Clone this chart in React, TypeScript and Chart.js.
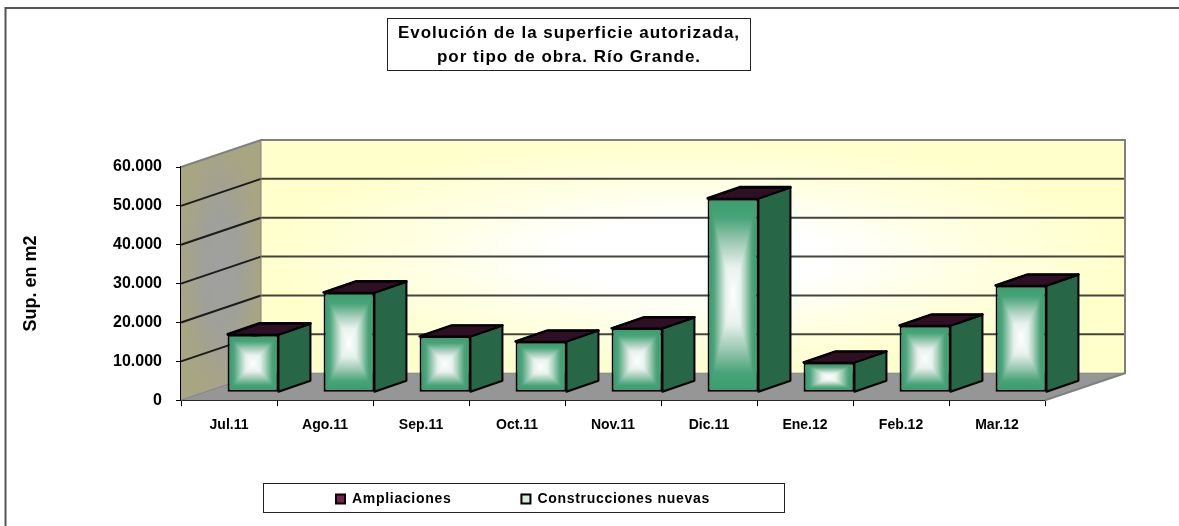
import React, { useEffect, useRef } from "react";
import { Chart, registerables } from "chart.js";

Chart.register(...registerables);

const categories = ["Jul.11", "Ago.11", "Sep.11", "Oct.11", "Nov.11", "Dic.11", "Ene.12", "Feb.12", "Mar.12"];
const construccionesNuevas = [14800, 25600, 14300, 13000, 16400, 49800, 7600, 17100, 27400];
const ampliaciones = [200, 150, 100, 100, 100, 200, 100, 150, 150];
const yTickStep = 10000;
const yMax = 60000;
const titleLines = ["Evolución de la superficie autorizada,", "por tipo de obra. Río Grande."];
const yAxisTitle = "Sup. en m2";

const FONT = '"Liberation Sans", Arial, sans-serif';
const DEPTH_X = 80;
const DEPTH_Y = 27;
const BAR_SHIFT_X = 24;
const BAR_SHIFT_Y = 8;
const BAR_DX = 32;
const BAR_DY = 11;
const LEGEND_GAP = 70;
const LEGEND_X = 336;

// offset from bar edge (0) to bar centre (1) -> colour
const GRADIENT_STOPS: [number, number, number, number][] = [
  [0, 60, 158, 110],
  [0.18, 72, 164, 121],
  [0.45, 163, 204, 184],
  [0.7, 232, 242, 237],
  [1, 255, 255, 255],
];

function poly(ctx: CanvasRenderingContext2D, pts: number[][]) {
  ctx.beginPath();
  pts.forEach((p, i) => (i ? ctx.lineTo(p[0], p[1]) : ctx.moveTo(p[0], p[1])));
  ctx.closePath();
}

function boxGradient(w: number, h: number) {
  const c = document.createElement("canvas");
  c.width = Math.max(1, Math.round(w));
  c.height = Math.max(1, Math.round(h));
  const g = c.getContext("2d")!;
  const img = g.createImageData(c.width, c.height);
  const hw = c.width / 2, hh = c.height / 2;
  for (let py = 0; py < c.height; py++) {
    for (let px = 0; px < c.width; px++) {
      const d = Math.max(Math.abs(px + 0.5 - hw) / hw, Math.abs(py + 0.5 - hh) / hh);
      const t = 1 - d;
      let k = 0;
      while (k < GRADIENT_STOPS.length - 2 && t > GRADIENT_STOPS[k + 1][0]) k++;
      const a = GRADIENT_STOPS[k], b = GRADIENT_STOPS[k + 1];
      const f = Math.min(1, Math.max(0, (t - a[0]) / (b[0] - a[0])));
      const o = (py * c.width + px) * 4;
      img.data[o] = a[1] + (b[1] - a[1]) * f;
      img.data[o + 1] = a[2] + (b[2] - a[2]) * f;
      img.data[o + 2] = a[3] + (b[3] - a[3]) * f;
      img.data[o + 3] = 255;
    }
  }
  g.putImageData(img, 0, 0);
  return c;
}

const wallPlugin = {
  id: "walls",
  beforeDatasetsDraw(chart: any) {
    const { ctx, chartArea: a, scales } = chart;
    const y = scales.y;
    const l = a.left, r = a.right, t = a.top, b = a.bottom;
    ctx.save();
    // back wall
    const bx0 = l + DEPTH_X, bx1 = r + DEPTH_X, by0 = t - DEPTH_Y, by1 = b - DEPTH_Y;
    const w = bx1 - bx0, h = by1 - by0;
    ctx.save();
    ctx.beginPath();
    ctx.rect(bx0, by0, w, h);
    ctx.clip();
    ctx.translate((bx0 + bx1) / 2, (by0 + by1) / 2);
    ctx.scale(1, h / w);
    const rg = ctx.createRadialGradient(0, 0, 0, 0, 0, w / 2);
    rg.addColorStop(0, "#ffffff");
    rg.addColorStop(0.3, "#ffffff");
    rg.addColorStop(0.6, "#ffffe6");
    rg.addColorStop(1, "#ffffcc");
    ctx.fillStyle = rg;
    ctx.fillRect(-w / 2, -w / 2, w, w);
    ctx.restore();
    // side wall
    ctx.save();
    poly(ctx, [[l, t], [bx0, by0], [bx0, by1], [l, b]]);
    ctx.clip();
    ctx.translate((l + bx0) / 2, (by0 + b) / 2);
    ctx.scale(1, (b - by0) / (bx0 - l));
    const sg = ctx.createRadialGradient(0, 0, 0, 0, 0, (bx0 - l) / 2);
    sg.addColorStop(0, "#a0a0a0");
    sg.addColorStop(0.45, "#a0a09a");
    sg.addColorStop(1, "#a8a582");
    ctx.fillStyle = sg;
    ctx.fillRect(-(bx0 - l), -(bx0 - l), (bx0 - l) * 2, (bx0 - l) * 2);
    ctx.restore();
    // floor
    ctx.fillStyle = "#969696";
    poly(ctx, [[l, b], [r, b], [bx1, by1], [bx0, by1]]);
    ctx.fill();
    // grid lines (wall + side)
    for (let v = yTickStep; v < yMax; v += yTickStep) {
      const py = y.getPixelForValue(v);
      ctx.lineWidth = 2;
      ctx.strokeStyle = "#45453c";
      ctx.beginPath();
      ctx.moveTo(bx0, py - DEPTH_Y);
      ctx.lineTo(bx1, py - DEPTH_Y);
      ctx.stroke();
      ctx.strokeStyle = "#1c1c1c";
      ctx.beginPath();
      ctx.moveTo(l, py);
      ctx.lineTo(bx0, py - DEPTH_Y);
      ctx.stroke();
    }
    ctx.strokeStyle = "#808080";
    ctx.lineWidth = 2;
    ctx.beginPath();
    ctx.moveTo(l, t);
    ctx.lineTo(bx0, by0);
    ctx.lineTo(bx1, by0);
    ctx.lineTo(bx1, by1);
    ctx.lineTo(r, b);
    ctx.stroke();
    ctx.lineWidth = 1;
    ctx.beginPath();
    ctx.moveTo(bx0, by0);
    ctx.lineTo(bx0, by1);
    ctx.lineTo(bx1, by1);
    ctx.moveTo(bx0, by1);
    ctx.lineTo(l, b);
    ctx.stroke();
    ctx.restore();

    // Shift all the bars back onto the middle of the floor
    ctx.save();
    ctx.translate(BAR_SHIFT_X, -BAR_SHIFT_Y);
  },
  beforeDatasetDraw(chart: any, args: any) {
    const { ctx } = chart;
    const meta = args.meta;
    const side = meta.index === 0 ? "#276647" : "#2e0f24";
    ctx.save();
    ctx.strokeStyle = "#000";
    ctx.lineWidth = 2;
    ctx.lineJoin = "round";
    meta.data.forEach((el: any) => {
      const hw = el.width / 2;
      const l = el.x - hw, r = el.x + hw;
      const top = Math.min(el.y, el.base), bot = Math.max(el.y, el.base);
      ctx.fillStyle = side;
      poly(ctx, [[r, bot], [r + BAR_DX, bot - BAR_DY], [r + BAR_DX, top - BAR_DY], [r, top]]);
      ctx.fill();
      ctx.stroke();
      ctx.fillStyle = "#2e0f24";
      poly(ctx, [[l, top], [l + BAR_DX, top - BAR_DY], [r + BAR_DX, top - BAR_DY], [r, top]]);
      ctx.fill();
      ctx.stroke();
    });
    ctx.restore();
  },
  afterDatasetDraw(chart: any, args: any) {
    if (args.meta.index !== 0) return;
    const { ctx } = chart;
    args.meta.data.forEach((el: any) => {
      const hw = el.width / 2 - 2;
      const l = el.x - hw, r = el.x + hw;
      const top = Math.min(el.y, el.base) + 2, bot = Math.max(el.y, el.base) - 2;
      ctx.drawImage(boxGradient(r - l, bot - top), l, top, r - l, bot - top);
    });
  },
  afterDatasetsDraw(chart: any) {
    chart.ctx.restore();
  },
};

function spaced(box: any, spacing: string) {
  const draw = box.draw;
  box.draw = function (...args: any[]) {
    const ctx = box.ctx;
    ctx.letterSpacing = spacing;
    draw.apply(box, args);
    ctx.letterSpacing = "0px";
  };
}

const framePlugin = {
  id: "frames",
  afterLayout(chart: any) {
    const t = chart.titleBlock;
    if (t) {
      t.left = 388; t.right = 750; t.top = 21; t.bottom = 71; t.width = 362;
      spaced(t, "1px");
    }
    const lg = chart.legend;
    if (lg) {
      lg.options.labels.padding = LEGEND_GAP;
      lg.left = LEGEND_X - LEGEND_GAP;
      lg.right = 900;
      lg.top = 492 - LEGEND_GAP;
      lg.bottom = 512;
      spaced(lg, "0.7px");
    }
  },
  beforeDraw(chart: any) {
    const { ctx } = chart;
    ctx.save();
    ctx.fillStyle = "#fff";
    ctx.fillRect(0, 0, chart.width, chart.height);
    ctx.strokeStyle = "#555";
    ctx.lineWidth = 2;
    ctx.beginPath();
    ctx.moveTo(5.5, chart.height);
    ctx.lineTo(5.5, 8);
    ctx.lineTo(chart.width, 8);
    ctx.stroke();
    ctx.strokeStyle = "#222";
    ctx.lineWidth = 1;
    ctx.strokeRect(387.5, 18.5, 363, 52);
    ctx.strokeRect(263.5, 483.5, 521, 29);
    ctx.restore();
  },
};

export default function App() {
  const ref = useRef<HTMLCanvasElement>(null);
  useEffect(() => {
    document.body.style.margin = "0";
    const chart = new Chart(ref.current!, {
      type: "bar",
      data: {
        labels: categories,
        datasets: [
          {
            label: "Construcciones nuevas",
            data: construccionesNuevas,
            backgroundColor: "#3c9e6e",
            borderColor: "#000",
            borderWidth: 2,
            borderSkipped: false,
            clip: false as any,
            stack: "s",
            categoryPercentage: 1,
            barPercentage: 0.53,
          },
          {
            label: "Ampliaciones",
            data: ampliaciones,
            backgroundColor: "#7a1f55",
            borderColor: "#000",
            borderWidth: 1,
            clip: false as any,
            stack: "s",
            categoryPercentage: 1,
            barPercentage: 0.53,
          },
        ],
      },
      options: {
        animation: false,
        responsive: false,
        layout: { padding: { left: 20, right: 134, top: 0, bottom: 47 } },
        plugins: {
          tooltip: { enabled: false },
          title: {
            display: true,
            text: titleLines,
            color: "#000",
            font: { family: FONT, size: 17, weight: "bold", lineHeight: 1.412 },
            padding: { top: 0, bottom: 119 },
          },
          legend: {
            display: true,
            position: "bottom",
            align: "start",
            labels: {
              color: "#000",
              font: { family: FONT, size: 14, weight: "bold" },
              boxWidth: 9,
              boxHeight: 9,
              padding: 10,
              generateLabels(chart: any) {
                return chart.data.datasets
                  .map((d: any, i: number) => ({
                    text: d.label,
                    fillStyle: i === 0 ? "#d8ecdf" : "#7a1f55",
                    strokeStyle: "#000",
                    lineWidth: 2,
                    datasetIndex: i,
                  }))
                  .reverse();
              },
            },
          },
        },
        scales: {
          x: {
            stacked: true,
            z: 1,
            border: { display: true, color: "#000", width: 2 },
            grid: { drawOnChartArea: false, drawTicks: true, tickLength: 6, color: "#000", lineWidth: 1, offset: true },
            ticks: { color: "#000", font: { family: FONT, size: 14, weight: "bold" }, padding: 11, maxRotation: 0, autoSkip: false },
          },
          y: {
            stacked: true,
            z: 1,
            min: 0,
            max: yMax,
            border: { display: true, color: "#000", width: 2 },
            grid: { drawOnChartArea: false, drawTicks: true, tickLength: 5, color: "#000" },
            ticks: {
              stepSize: yTickStep,
              color: "#000",
              padding: 14,
              font: { family: FONT, size: 16, weight: "bold" },
              callback: (v: any) => String(v).replace(/\B(?=(\d{3})+$)/g, "."),
            },
            title: {
              display: true,
              text: yAxisTitle,
              color: "#000",
              font: { family: FONT, size: 18, weight: "bold" },
              padding: { top: 0, bottom: 0 },
            },
            afterFit(scale: any) { scale.width = 161; },
          },
        },
      },
      plugins: [framePlugin, wallPlugin],
    } as any);
    return () => chart.destroy();
  }, []);
  return <canvas ref={ref} width={1179} height={526} style={{ display: "block" }} />;
}
